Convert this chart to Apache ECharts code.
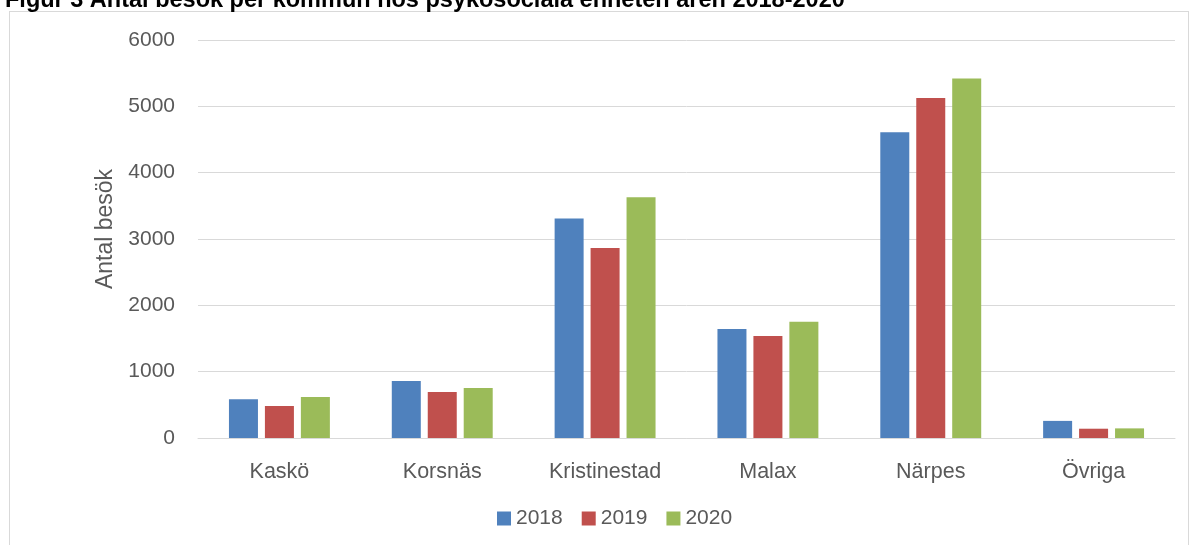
<!DOCTYPE html>
<html><head><meta charset="utf-8">
<script src="https://cdn.jsdelivr.net/npm/echarts@6/dist/echarts.min.js"></script>
<style>
html,body{margin:0;padding:0;background:#fff;overflow:hidden}
#frame{position:absolute;left:9px;top:11px;width:1180px;height:560px;border:1px solid #d9d9d9;box-sizing:border-box}
#c{position:absolute;left:0;top:0;width:1192px;height:545px}
</style></head>
<body><div id="frame"></div><div id="c"></div>
<script>
const titleText = 'Figur 3 Antal besök per kommun hos psykosociala enheten åren 2018-2020';
const categories = ['Kaskö','Korsnäs','Kristinestad','Malax','Närpes','Övriga'];
const years = ['2018','2019','2020'];
const v2018 = [585, 860, 3310, 1645, 4610, 258];
const v2019 = [483, 694, 2866, 1538, 5125, 140];
const v2020 = [618, 754, 3630, 1752, 5420, 145];
const colors = ['#4F81BD','#C0504D','#9BBB59'];
const font = 'Liberation Sans, Arial, sans-serif';
const chart = echarts.init(document.getElementById('c'));
const data = [v2018, v2019, v2020];
chart.setOption({
  animation:false,
  title:{text:titleText,left:0,top:-16,textStyle:{fontFamily:font,fontSize:23.5,fontWeight:'bold',color:'#000'}},
  color:colors,
  legend:{data:years,bottom:11,left:492,itemWidth:14,itemHeight:14,itemGap:19,icon:'rect',
    textStyle:{fontFamily:font,fontSize:21,color:'#595959'}},
  grid:{left:198,right:17,top:40,bottom:107},
  xAxis:{type:'category',data:categories,axisTick:{show:false},
    axisLine:{lineStyle:{color:'#d9d9d9',width:1}},
    axisLabel:{fontFamily:font,fontSize:21.5,color:'#595959',margin:23}},
  yAxis:{type:'value',min:0,max:6000,interval:1000,name:'Antal besök',nameLocation:'middle',nameGap:80,
    nameTextStyle:{fontFamily:font,fontSize:23,color:'#595959',padding:[0,0,0,20]},
    axisLabel:{fontFamily:font,fontSize:21,color:'#595959',margin:23,formatter:v=>String(v)},
    splitLine:{lineStyle:{color:'#d9d9d9',width:1}},axisLine:{show:false},axisTick:{show:false}},
  series:years.map((y,i)=>({name:y,type:'bar',data:data[i],barWidth:29,barGap:'24%',
    itemStyle:{color:colors[i]}}))
});
</script></body></html>
